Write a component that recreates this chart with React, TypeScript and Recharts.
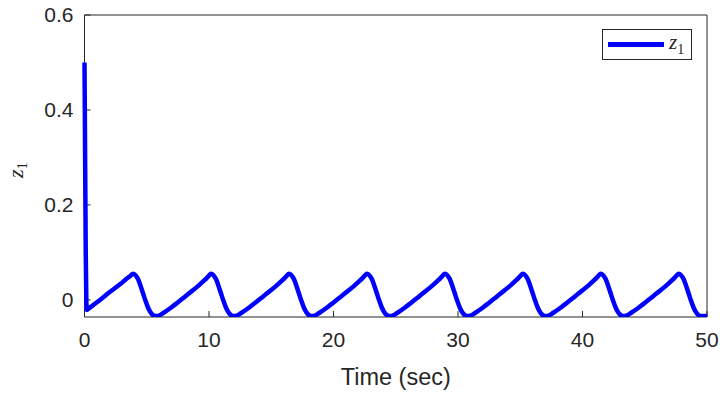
import { CartesianGrid, Legend, Line, LineChart, XAxis, YAxis } from "recharts";

// z1 response, sampled along the time axis (seconds)
const timeSec = [
  0, 0.05, 0.1, 0.15, 0.2, 0.4, 1.0, 2.0, 2.9, 3.4, 3.7, 3.9,
  4.1, 4.3, 4.5, 4.7, 4.9, 5.1, 5.3, 5.5, 5.7,
  5.96, 6.36, 7.16, 8.16, 9.16, 9.66, 9.96, 10.16,
  10.36, 10.56, 10.76, 10.96, 11.16, 11.36, 11.56, 11.76, 11.96,
  12.22, 12.62, 13.42, 14.42, 15.42, 15.92, 16.22, 16.42,
  16.62, 16.82, 17.02, 17.22, 17.42, 17.62, 17.82, 18.02, 18.22,
  18.48, 18.88, 19.68, 20.68, 21.68, 22.18, 22.48, 22.68,
  22.88, 23.08, 23.28, 23.48, 23.68, 23.88, 24.08, 24.28, 24.48,
  24.74, 25.14, 25.94, 26.94, 27.94, 28.44, 28.74, 28.94,
  29.14, 29.34, 29.54, 29.74, 29.94, 30.14, 30.34, 30.54, 30.74,
  31.0, 31.4, 32.2, 33.2, 34.2, 34.7, 35.0, 35.2,
  35.4, 35.6, 35.8, 36.0, 36.2, 36.4, 36.6, 36.8, 37.0,
  37.26, 37.66, 38.46, 39.46, 40.46, 40.96, 41.26, 41.46,
  41.66, 41.86, 42.06, 42.26, 42.46, 42.66, 42.86, 43.06, 43.26,
  43.52, 43.92, 44.72, 45.72, 46.72, 47.22, 47.52, 47.72,
  47.92, 48.12, 48.32, 48.52, 48.72, 48.92, 49.12, 49.32, 49.55, 49.8, 50,
];

const z1Values = [
  0.5, 0.3, 0.1, -0.005, -0.021, -0.017, -0.005, 0.016, 0.034, 0.045, 0.051, 0.055,
  0.052, 0.044, 0.03, 0.014, -0.002, -0.016, -0.026, -0.032, -0.034,
  -0.033, -0.027, -0.012, 0.009, 0.03, 0.042, 0.05, 0.055,
  0.052, 0.044, 0.03, 0.014, -0.002, -0.016, -0.026, -0.032, -0.034,
  -0.033, -0.027, -0.012, 0.009, 0.03, 0.042, 0.05, 0.055,
  0.052, 0.044, 0.03, 0.014, -0.002, -0.016, -0.026, -0.032, -0.034,
  -0.033, -0.027, -0.012, 0.009, 0.03, 0.042, 0.05, 0.055,
  0.052, 0.044, 0.03, 0.014, -0.002, -0.016, -0.026, -0.032, -0.034,
  -0.033, -0.027, -0.012, 0.009, 0.03, 0.042, 0.05, 0.055,
  0.052, 0.044, 0.03, 0.014, -0.002, -0.016, -0.026, -0.032, -0.034,
  -0.033, -0.027, -0.012, 0.009, 0.03, 0.042, 0.05, 0.055,
  0.052, 0.044, 0.03, 0.014, -0.002, -0.016, -0.026, -0.032, -0.034,
  -0.033, -0.027, -0.012, 0.009, 0.03, 0.042, 0.05, 0.055,
  0.052, 0.044, 0.03, 0.014, -0.002, -0.016, -0.026, -0.032, -0.034,
  -0.033, -0.027, -0.012, 0.009, 0.03, 0.042, 0.05, 0.055,
  0.052, 0.044, 0.03, 0.014, -0.002, -0.016, -0.026, -0.032, -0.034, -0.034, -0.033,
];

const xTicks = [0, 10, 20, 30, 40, 50];
const yTicks = [0, 0.2, 0.4, 0.6];

const AXIS = "#262626";
const LINE = "#0000ff";
const SANS = "'Liberation Sans', Arial, Helvetica, sans-serif";
const SERIF = "'Liberation Serif', 'Times New Roman', serif";

const data = timeSec.map((t, i) => ({ t, z1: z1Values[i] }));

function YLabel({ viewBox }: any) {
  const cx = 23;
  const cy = viewBox.y + viewBox.height / 2 + 4;
  return (
    <text
      x={cx}
      y={cy}
      transform={`rotate(-90, ${cx}, ${cy})`}
      textAnchor="middle"
      fill={AXIS}
      fontFamily={SERIF}
      fontStyle="italic"
      fontSize={22}
    >
      z
      <tspan fontStyle="normal" fontSize={15} dy={4}>
        1
      </tspan>
    </text>
  );
}

function LegendBox() {
  return (
    <div
      style={{
        width: 90,
        height: 31,
        border: "1px solid #262626",
        background: "#fff",
        display: "flex",
        alignItems: "center",
        boxSizing: "border-box",
      }}
    >
      <div style={{ marginLeft: 5, width: 56, height: 5, background: LINE }} />
      <span style={{ marginLeft: 5, fontFamily: SERIF, fontStyle: "italic", fontSize: 21, color: AXIS, lineHeight: 1 }}>
        z<sub style={{ fontStyle: "normal", fontSize: 14 }}>1</sub>
      </span>
    </div>
  );
}

export default function App() {
  return (
    <div style={{ position: "absolute", left: 0, top: 0, background: "#fff" }}>
      <LineChart width={720} height={394} data={data} margin={{ top: 14, right: 12, bottom: 0, left: 0 }}>
        <CartesianGrid stroke="none" />
        <XAxis
          dataKey="t"
          type="number"
          domain={[0, 50]}
          ticks={xTicks}
          height={77}
          stroke={AXIS}
          tickSize={-6}
          tickMargin={21}
          tick={{ fill: AXIS, fontSize: 21, fontFamily: SANS }}
          label={{ value: "Time (sec)", position: "insideBottom", offset: 9, fill: AXIS, fontSize: 23.5, fontFamily: SANS }}
        />
        <XAxis
          xAxisId="top"
          orientation="top"
          type="number"
          domain={[0, 50]}
          ticks={xTicks}
          height={1}
          stroke={AXIS}
          tickSize={-6}
          tick={false}
        />
        <YAxis
          type="number"
          domain={[-0.036, 0.6]}
          ticks={yTicks}
          allowDataOverflow
          width={84.5}
          stroke={AXIS}
          tickSize={-6}
          tickMargin={17}
          tick={{ fill: AXIS, fontSize: 21, fontFamily: SANS }}
          label={<YLabel />}
        />
        <YAxis
          yAxisId="right"
          orientation="right"
          type="number"
          domain={[-0.036, 0.6]}
          ticks={yTicks}
          allowDataOverflow
          width={1}
          stroke={AXIS}
          tickSize={-6}
          tick={false}
        />
        <Legend
          layout="horizontal"
          verticalAlign="middle"
          align="center"
          content={<LegendBox />}
          wrapperStyle={{ left: 602, top: 29, width: 90, height: 31 }}
        />
        <Line
          type="monotone"
          dataKey="z1"
          stroke={LINE}
          strokeWidth={4.5}
          dot={false}
          zIndex={600}
          isAnimationActive={false}
        />
      </LineChart>
    </div>
  );
}
